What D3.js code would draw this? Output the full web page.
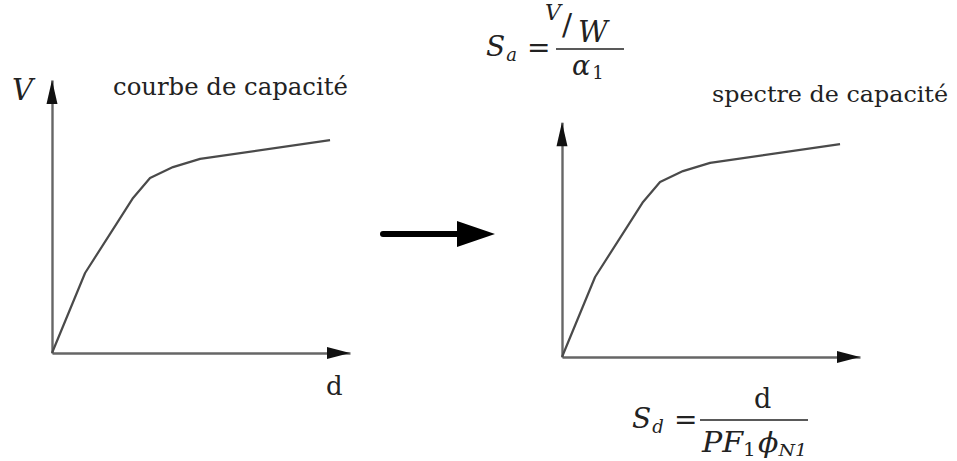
<!DOCTYPE html>
<html>
<head>
<meta charset="utf-8">
<script src="https://cdn.jsdelivr.net/npm/d3@7"></script>
<style>
  html, body { margin: 0; padding: 0; background: #fff; }
  svg { display: block; }
</style>
</head>
<body>
<svg id="chart" width="957" height="461"></svg>
<script>
// ---- data (relative units) ----
const dValues = [0, 11.1, 21.8, 27.2, 32.9, 40.6, 49.7, 93.3];
const vValues = [0, 29.3, 47.6, 56.8, 64.1, 68.1, 71.1, 78.0];
const xAxisMax = 100;
const leftYAxisMax = 100;
const rightYAxisMax = 86;
const leftTitle = "courbe de capacité";
const rightTitle = "spectre de capacité";
const leftYLabel = "V";
const leftXLabel = "d";

const FONT = "'DejaVu Serif', 'Liberation Serif', 'Times New Roman', serif";
const svg = d3.select("#chart");
const PX_X = 2.98, PX_Y = 2.73;
const axisColor = "#666", curveColor = "#4a4a4a";

function arrowHead(g, tipX, tipY, dir, len, halfW, color) {
  let p;
  if (dir === "up") p = [[tipX, tipY], [tipX - halfW, tipY + len], [tipX + halfW, tipY + len]];
  else p = [[tipX, tipY], [tipX - len, tipY - halfW], [tipX - len, tipY + halfW]];
  g.append("path").attr("d", "M" + p.map(d => d.join(",")).join("L") + "Z").attr("fill", color || "#111");
}

function panel(ox, oy, yMax) {
  const x = d3.scaleLinear().domain([0, xAxisMax]).range([ox, ox + PX_X * xAxisMax]);
  const y = d3.scaleLinear().domain([0, yMax]).range([oy, oy - PX_Y * yMax]);
  const g = svg.append("g");
  g.append("g").attr("transform", `translate(0,${oy})`)
    .call(d3.axisBottom(x).tickValues([]).tickSizeOuter(0));
  g.append("g").attr("transform", `translate(${ox},0)`)
    .call(d3.axisLeft(y).tickValues([]).tickSizeOuter(0));
  g.selectAll(".domain").attr("stroke", axisColor).attr("stroke-width", 2.4);
  arrowHead(g, x(xAxisMax), oy, "right", 23, 6);
  arrowHead(g, ox, y(yMax), "up", 24, 5.5);
  const line = d3.line().x((d, i) => x(dValues[i])).y((d, i) => y(vValues[i]));
  g.append("path").datum(vValues).attr("d", line)
    .attr("fill", "none").attr("stroke", curveColor).attr("stroke-width", 2.2)
    .attr("stroke-linejoin", "round");
  return {x, y};
}

panel(52, 353, leftYAxisMax);
panel(562, 357, rightYAxisMax);

function txt(x, y, size) {
  return svg.append("text").attr("x", x).attr("y", y)
    .attr("font-family", FONT).attr("font-size", size).attr("fill", "#222");
}
function span(el, s, size, italic, dy, dx) {
  el.append("tspan").attr("font-size", size)
    .attr("font-style", italic ? "italic" : "normal")
    .attr("dy", dy || 0).attr("dx", dx || 0).text(s);
  return el;
}

// Titles
txt(113, 95, 24).attr("textLength", 235).attr("lengthAdjust", "spacingAndGlyphs").text(leftTitle);
txt(712, 102, 23).attr("textLength", 236).attr("lengthAdjust", "spacingAndGlyphs").text(rightTitle);
txt(12, 100, 29).attr("font-style", "italic").text(leftYLabel);
txt(326, 395, 26).text(leftXLabel);

// central arrow
svg.append("line").attr("x1", 383).attr("x2", 462).attr("y1", 234).attr("y2", 234)
  .attr("stroke", "#000").attr("stroke-width", 6).attr("stroke-linecap", "round");
svg.append("path").attr("d", "M495,234L457,221L457,247Z").attr("fill", "#000");

// Formula S_a = (V/W)/alpha_1
let e = txt(486, 56, 28);
span(e, "S", 28, true); span(e, "a", 18, true, 5, 1);
txt(527, 57, 28).text("=");
txt(545, 20, 22).attr("font-style", "italic").text("V");
txt(562, 35, 30).text("/");
txt(578, 42, 29).attr("font-style", "italic").text("W");
svg.append("line").attr("x1", 556).attr("x2", 624).attr("y1", 49).attr("y2", 49)
  .attr("stroke", "#222").attr("stroke-width", 1.6);
e = txt(572, 75, 27);
span(e, "α", 27, true); span(e, "1", 18, false, 4, 2);

// Formula S_d = d / (PF_1 phi_N1)
e = txt(632, 428, 28);
span(e, "S", 28, true); span(e, "d", 18, true, 5, 1);
txt(674, 429, 28).text("=");
txt(754, 408, 27).text("d");
svg.append("line").attr("x1", 700).attr("x2", 808).attr("y1", 420).attr("y2", 420)
  .attr("stroke", "#222").attr("stroke-width", 1.6);
e = txt(702, 452, 27).attr("textLength", 105).attr("lengthAdjust", "spacingAndGlyphs");
span(e, "PF", 27, true); span(e, "1", 18, false, 4); span(e, "ϕ", 27, true, -4, 2); span(e, "N1", 17, true, 4);
</script>
</body>
</html>
